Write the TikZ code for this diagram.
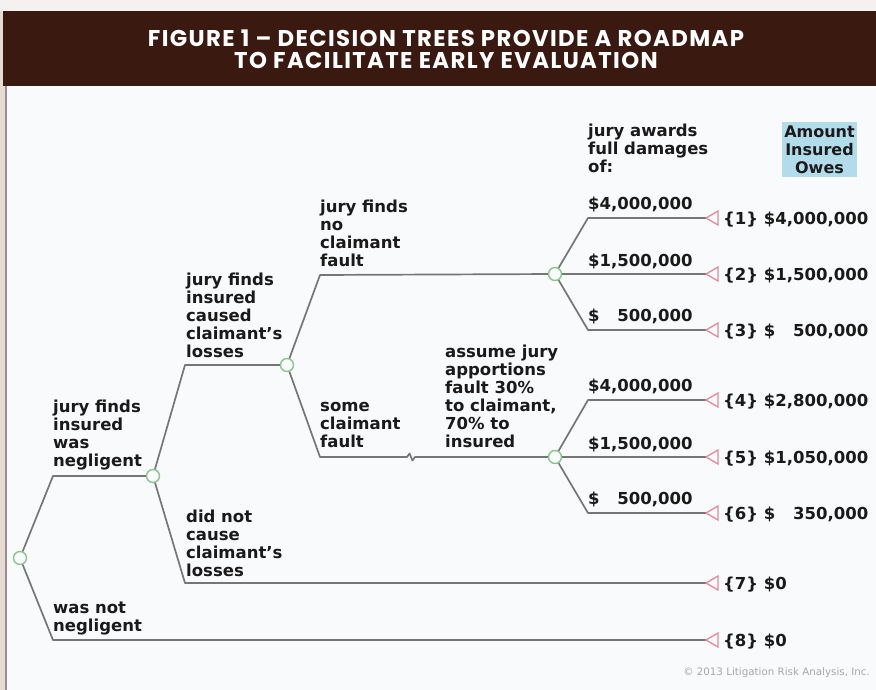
\documentclass[tikz,border=0pt]{standalone}
\usepackage{fontspec}
\setmainfont{DejaVu Sans}
\newfontfamily\titlefont[LetterSpace=6]{Poppins}
\definecolor{hdr}{HTML}{3A1A10}
\definecolor{beige}{HTML}{E6DCD3}
\definecolor{topstrip}{HTML}{F4F1EE}
\definecolor{edgeline}{HTML}{9A8E86}
\definecolor{paper}{HTML}{F9FAFC}
\definecolor{branchc}{HTML}{767676}
\definecolor{chancec}{HTML}{8DC48D}
\definecolor{leafc}{HTML}{E58A97}
\definecolor{ink}{HTML}{1A1A1A}
\definecolor{boxblue}{HTML}{B3DCEB}
\definecolor{copyc}{HTML}{A8A8A8}
\begin{document}
\begin{tikzpicture}[x=1pt,y=-1pt,
  branch/.style={draw=branchc, line width=1.7pt, line join=round},
  chance/.style={circle, draw=chancec, fill=paper, line width=1.4pt, minimum size=13pt, inner sep=0pt},
  leaftri/.style={draw=leafc, line width=1.3pt, fill=paper, line join=miter},
  lbl/.style={font=\fontsize{16.5}{18}\selectfont\bfseries, text=ink, align=left, inner sep=0pt, anchor=base west},
  val/.style={font=\fontsize{16.5}{18}\selectfont\bfseries, text=ink, inner sep=0pt, anchor=base west},
]
% background
\useasboundingbox (0,0) rectangle (876,690);
\fill[beige] (0,0) rectangle (876,690);
\fill[topstrip] (0,0) rectangle (876,11.5);
\fill[hdr] (3,11.5) rectangle (876,86.5);
\fill[paper] (7,86.5) rectangle (876,690);
\draw[edgeline, line width=1.5pt] (6,86.5) -- (6,690);

% title
\node[font=\titlefont\fontsize{22.8}{22}\selectfont\bfseries, text=white, align=center, anchor=base, inner sep=0pt] (title) at (446,69)
  {FIGURE 1 – DECISION TREES PROVIDE A ROADMAP\\TO FACILITATE EARLY EVALUATION};

% chance nodes
\node[chance] (R)  at (20,558) {};
\node[chance] (N1) at (153,476) {};
\node[chance] (N2) at (287,365) {};
\node[chance] (N3) at (555,274) {};
\node[chance] (N4) at (555,457) {};

% bend points
\coordinate (r1) at (53,476);
\coordinate (r2) at (53,640);
\coordinate (n1a) at (185,365);
\coordinate (n1b) at (185,583);
\coordinate (n2a) at (320,275);
\coordinate (n2b) at (320,457);
\coordinate (brk) at (407,457);
\coordinate (a1) at (588,218);
\coordinate (a3) at (588,330);
\coordinate (b1) at (588,400);
\coordinate (b3) at (588,513);

% leaf ends
\coordinate (t1) at (706,218);
\coordinate (t2) at (706,274);
\coordinate (t3) at (706,330);
\coordinate (t4) at (706,400);
\coordinate (t5) at (706,457);
\coordinate (t6) at (706,513);
\coordinate (t7) at (706,583);
\coordinate (t8) at (706,640);

% branches
\draw[branch] (R) -- (r1) -- (N1);
\draw[branch] (R) -- (r2) -- (t8);
\draw[branch] (N1) -- (n1a) -- (N2);
\draw[branch] (N1) -- (n1b) -- (t7);
\draw[branch] (N2) -- (n2a) -- (N3);
\draw[branch] (N2) -- (n2b) -- (brk) -- ++(2.5,-3.5) -- ++(3,7) -- ++(2.5,-3.5) -- (N4);
\draw[branch] (N3) -- (a1) -- (t1);
\draw[branch] (N3) -- (t2);
\draw[branch] (N3) -- (a3) -- (t3);
\draw[branch] (N4) -- (b1) -- (t4);
\draw[branch] (N4) -- (t5);
\draw[branch] (N4) -- (b3) -- (t6);

% leaf triangles
\foreach \t in {t1,t2,t3,t4,t5,t6,t7,t8}
  \draw[leaftri] (\t) -- ++(12,-7) -- ++(0,14) -- cycle;

% branch labels
\node[lbl] (l1) at (53,466) {jury finds\\insured\\was\\negligent};
\node[lbl] (l2) at (53,631) {was not\\negligent};
\node[lbl] (l3) at (186,357) {jury finds\\insured\\caused\\claimant’s\\losses};
\node[lbl] (l4) at (186,576) {did not\\cause\\claimant’s\\losses};
\node[lbl] (l5) at (320,266) {jury finds\\no\\claimant\\fault};
\node[lbl] (l6) at (320,447) {some\\claimant\\fault};
\node[lbl] (l7) at (445,447) {assume jury\\apportions\\fault 30\%\\to claimant,\\70\% to\\insured};
\node[lbl] (l8) at (588,173) {jury awards\\full damages\\of:};

% damages labels
\node[val] (v1) at (588,209) {\$4,000,000};
\node[val] (v2) at (588,266) {\$1,500,000};
\node[val] (v3) at (588,321) {\$\phantom{1,}500,000};
\node[val] (v4) at (588,391) {\$4,000,000};
\node[val] (v5) at (588,449) {\$1,500,000};
\node[val] (v6) at (588,504) {\$\phantom{1,}500,000};

% outcome labels
\node[val] (o1) at (723,224) {\{1\} \$4,000,000};
\node[val] (o2) at (723,280) {\{2\} \$1,500,000};
\node[val] (o3) at (723,336) {\{3\} \$\phantom{1,}500,000};
\node[val] (o4) at (723,406) {\{4\} \$2,800,000};
\node[val] (o5) at (723,463) {\{5\} \$1,050,000};
\node[val] (o6) at (723,519) {\{6\} \$\phantom{1,}350,000};
\node[val] (o7) at (723,589) {\{7\} \$0};
\node[val] (o8) at (723,646) {\{8\} \$0};

% header box
\node[fill=boxblue, minimum width=75pt, minimum height=55pt, inner sep=0pt, align=center,
      font=\fontsize{16}{18}\selectfont\bfseries, text=ink] (amt) at (819.5,149.5) {Amount\\Insured\\Owes};

% copyright
\node[anchor=base east, inner sep=0pt, font=\fontsize{10.3}{12}\selectfont, text=copyc] (copy) at (870,675)
  {© 2013 Litigation Risk Analysis, Inc.};
\end{tikzpicture}
\end{document}
